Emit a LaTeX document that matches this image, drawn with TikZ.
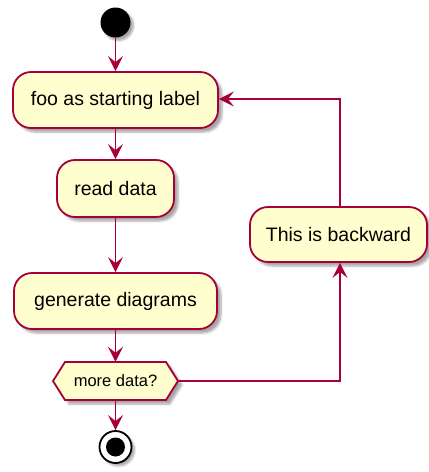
\documentclass[tikz,border=0pt]{standalone}
\usepackage{fontspec}
\setmainfont{Liberation Sans}
\usetikzlibrary{arrows.meta,shadows.blur,calc}
\definecolor{umlborder}{HTML}{A80036}
\definecolor{umlfill}{HTML}{FEFECE}
\tikzset{
  actbox/.style={draw=umlborder, fill=umlfill, line width=1.8pt, rounded corners=18pt,
    inner sep=0pt, font=\fontsize{19.5}{23}\selectfont,
    blur shadow={shadow xshift=4pt, shadow yshift=-4pt, shadow blur steps=6, shadow opacity=35}},
  flow/.style={draw=umlborder, line width=1.8pt,
    -{Stealth[length=15pt, width=15pt, inset=6pt]}},
}
\begin{document}
\begin{tikzpicture}[x=1pt, y=-1pt]
\useasboundingbox (0,0) rectangle (429,472);
% start
\node[circle, fill=black, minimum size=30pt, inner sep=0pt,
  blur shadow={shadow xshift=3pt, shadow yshift=-3pt, shadow blur steps=5, shadow opacity=35}] (start) at (115.5,22.5) {};
% activities
\node[actbox, minimum width=205pt, minimum height=56pt] (foo) at (115.5,100) {foo as starting label};
\node[actbox, minimum width=117pt, minimum height=57pt] (read) at (115.5,188.5) {read data};
\node[actbox, minimum width=203pt, minimum height=56pt] (gen) at (115.5,301) {generate diagrams};
\node[actbox, minimum width=177pt, minimum height=55pt] (back) at (338.5,234.5) {This is backward};
% decision hexagon
\path[draw=umlborder, fill=umlfill, line width=1.8pt,
  blur shadow={shadow xshift=4pt, shadow yshift=-4pt, shadow blur steps=6, shadow opacity=35}]
  (53,381) -- (65,362) -- (166,362) -- (178,381) -- (166,400) -- (65,400) -- cycle;
\node[inner sep=0pt, minimum width=125pt, minimum height=38pt, font=\fontsize{16.5}{20}\selectfont] (dec) at (115.5,381) {more data?};
% end
\node[circle, draw=black, fill=white, line width=1.8pt, minimum size=32pt, inner sep=0pt,
  blur shadow={shadow xshift=3pt, shadow yshift=-3pt, shadow blur steps=5, shadow opacity=35}] (stop) at (115.5,447) {};
\node[circle, fill=black, minimum size=19pt, inner sep=0pt] (stopin) at (stop.center) {};
% connectors
\draw[flow] (start) -- (foo);
\draw[flow] (foo) -- (read);
\draw[flow] (read) -- (gen);
\draw[flow] (gen) -- (dec);
\draw[flow] (dec) -- (stop);
\coordinate (c1) at (340,381);
\coordinate (c2) at (340,99);
\draw[flow] (dec.east) -- (c1) -- (back.south -| c1);
\draw[flow] (back.north -| c2) -- (c2) -- (foo.east |- c2);
\end{tikzpicture}
\end{document}
